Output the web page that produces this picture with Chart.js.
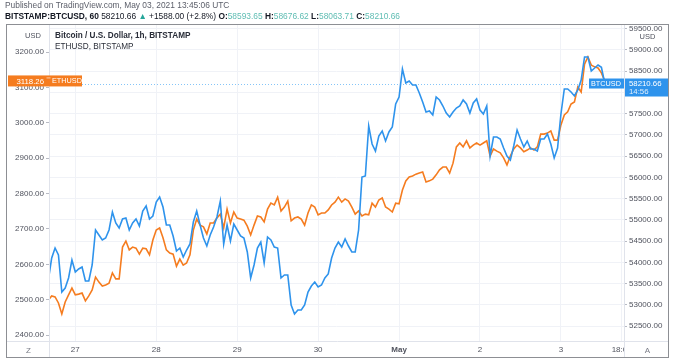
<!DOCTYPE html>
<html><head><meta charset="utf-8">
<style>html,body{margin:0;padding:0;background:#fff;}#wrap{width:681px;height:363px;}</style>
<script src="https://cdn.jsdelivr.net/npm/chart.js@4.4.0/dist/chart.umd.min.js"></script>
</head><body><div id="wrap"><canvas id="c" width="681" height="363"></canvas></div>
<script>
// Hourly bars, first bar = Apr 26 16:00 UTC (hour -8 relative to Apr 27 00:00)
const START_HOUR = -8;
const ethValues = [
2499,2511,2508,2491,2460,2494,2514,2533,
2514,2516,2519,2497,2511,2528,2564,2550,2539,2542,2547,2576,2559,2559,2649,2666,2641,2649,2646,2629,2646,2644,2627,2669,
2697,2703,2675,2641,2632,2629,2595,2615,2598,2604,2627,2697,2728,2711,2706,2686,2717,2717,2731,2742,2703,2756,2717,2748,
2731,2728,2725,2708,2683,2711,2737,2734,2720,2756,2773,2768,2790,2751,2762,2779,2723,2731,2734,2728,2711,2745,2768,2762,
2740,2745,2745,2754,2768,2776,2790,2776,2785,2779,2762,2742,2751,2737,2742,2740,2773,2762,2782,2788,2762,2756,2748,2773,
2771,2810,2836,2847,2850,2855,2858,2861,2833,2836,2841,2853,2867,2875,2875,2858,2886,2932,2943,2932,2949,2929,2937,2943,
2937,2943,2949,2906,2926,2920,2915,2901,2881,2906,2926,2937,2929,2918,2923,2929,2923,2932,2968,2968,2971,2977,2951,2951,
2994,3022,3031,3053,3059,3101,3087,3166,3186,3163,3158,3155,3141,3118.26
];
const btcValues = [
53583,54102,54337,54172,53301,53395,53631,54054,
53772,53843,53890,53560,53560,53937,54761,54643,54525,54573,54761,55185,54926,54808,55020,55044,54761,54926,55020,54855,55208,55326,55020,55091,
55420,55538,55303,54879,54879,54620,54266,54337,54125,54290,54431,54949,55208,54879,54573,54384,54643,54832,55067,55444,54431,54879,54502,54902,
54761,54620,54573,54243,53631,53937,54337,54478,53984,54596,54525,54361,54337,53631,53701,53701,52995,52783,52877,52877,52995,53301,53442,53536,
53419,53466,53631,53725,54102,54337,54478,54361,54549,54384,54243,54243,54761,56009,56033,57210,56786,56621,56975,57092,56857,57069,57187,57728,
57893,58553,58223,58270,58176,58176,57987,57775,57540,57563,57469,57893,57822,57681,57516,57422,57540,57634,57681,57822,57728,57516,57752,57846,
57587,57493,57681,56504,56951,56951,56904,56692,56504,56409,56739,57116,56904,56716,56857,56669,56669,56621,56904,56904,57022,56786,56457,56692,
57493,58082,58082,58011,57917,58058,58293,58835,58835,58505,58576,58647,58593,58210.66
];
const dayTicks = [0, 24, 48, 72, 96, 120, 144, 162];
const dayLabels = ['27', '28', '29', '30', 'May', '2', '3', '18:00'];
const ethTicks = [2400, 2500, 2600, 2700, 2800, 2900, 3000, 3100, 3200];
const btcTicks = [52500, 53000, 53500, 54000, 54500, 55000, 55500, 56000, 56500, 57000, 57500, 58000, 58500, 59000, 59500];
const ethRange = [2383.6, 3279.1];
const btcRange = [52147, 59612];
const hourRange = [-7.8, 162.7];
const btcCountdown = '14:56';

const BTC_COLOR = '#2e93ec';
const ETH_COLOR = '#f57c1f';
const FONT = "'Liberation Sans', Arial, sans-serif";

const ethPoints = ethValues.map((v, i) => ({x: START_HOUR + i, y: v}));
const btcPoints = btcValues.map((v, i) => ({x: START_HOUR + i, y: v}));
const ethLast = ethValues[ethValues.length - 1];
const btcLast = btcValues[btcValues.length - 1];

const FR = {left: 6, top: 24, right: 669, bottom: 358};

function txt(c, s, x, y, font, color, align) {
  c.font = font; c.fillStyle = color; c.textAlign = align || 'left'; c.textBaseline = 'middle';
  c.fillText(s, x, y);
  return c.measureText(s).width;
}

const overlay = {
  id: 'overlay',
  beforeDraw(chart) {
    const c = chart.ctx;
    c.save(); c.fillStyle = '#fff'; c.fillRect(0, 0, chart.width, chart.height); c.restore();
  },
  beforeDatasetsDraw(chart) {
    const c = chart.ctx, a = chart.chartArea;
    const yb = Math.round(chart.scales.yBtc.getPixelForValue(btcLast)) + 0.5;
    c.save();
    c.strokeStyle = 'rgba(33,150,243,0.55)'; c.lineWidth = 1; c.setLineDash([1, 2]);
    c.beginPath(); c.moveTo(a.left, yb); c.lineTo(a.right - 35, yb); c.stroke();
    c.restore();
  },
  afterDraw(chart) {
    const c = chart.ctx, a = chart.chartArea;
    c.save();
    // clear above frame (clips the top right-axis label)
    c.fillStyle = '#fff';
    c.fillRect(a.right + 1, FR.top - 6, FR.right - a.right + 4, 6);
    // bottom-right corner
    c.fillRect(a.right + 1, a.bottom + 1, FR.right - a.right - 1, FR.bottom - a.bottom - 1);
    // separators
    c.strokeStyle = '#e0e3eb'; c.lineWidth = 1;
    c.beginPath();
    c.moveTo(Math.round(a.left) + 0.5, FR.top); c.lineTo(Math.round(a.left) + 0.5, FR.bottom);
    c.moveTo(Math.round(a.right) + 0.5, FR.top); c.lineTo(Math.round(a.right) + 0.5, FR.bottom);
    c.moveTo(FR.left, Math.round(a.bottom) + 0.5); c.lineTo(FR.right, Math.round(a.bottom) + 0.5);
    c.stroke();
    // frame
    c.strokeStyle = '#8d8f94';
    c.strokeRect(FR.left + 0.5, FR.top + 0.5, FR.right - FR.left - 1, FR.bottom - FR.top - 1);
    const ty = (a.bottom + FR.bottom) / 2 + 1;
    txt(c, 'Z', (FR.left + a.left) / 2 + 1, ty, `8px ${FONT}`, '#787b86', 'center');
    txt(c, 'A', (a.right + FR.right) / 2 + 1, ty, `8px ${FONT}`, '#787b86', 'center');
    // USD units
    txt(c, 'USD', 33, 35.5, `7.5px ${FONT}`, '#50535e', 'center');
    c.fillStyle = '#fff'; c.fillRect(a.right + 2, 32, FR.right - a.right - 3, 10);
    txt(c, 'USD', (a.right + FR.right) / 2 + 1, 37, `7.5px ${FONT}`, '#50535e', 'center');
    // legend in pane
    txt(c, 'Bitcoin / U.S. Dollar, 1h, BITSTAMP', 55, 35.5, `bold 8.2px ${FONT}`, '#2a2e39');
    txt(c, 'ETHUSD, BITSTAMP', 55, 47, `8.2px ${FONT}`, '#2a2e39');
    // ETH price label
    const ye = chart.scales.yEth.getPixelForValue(ethLast);
    c.fillStyle = ETH_COLOR;
    c.fillRect(FR.left + 2, ye - 5.5, a.left + 33 - FR.left - 2, 11);
    c.strokeStyle = 'rgba(255,255,255,0.6)';
    c.beginPath(); c.moveTo(a.left - 2.5, ye - 3); c.lineTo(a.left + 1.5, ye - 3); c.stroke();
    txt(c, ethLast.toFixed(2), a.left - 5, ye + 0.5, `7.8px ${FONT}`, '#fff', 'right');
    txt(c, 'ETHUSD', a.left + 3, ye + 0.5, `7.3px ${FONT}`, '#fff');
    // BTC price label
    const yb = chart.scales.yBtc.getPixelForValue(btcLast);
    c.fillStyle = BTC_COLOR;
    c.fillRect(a.right - 35, yb - 5, 35, 10);
    c.fillRect(a.right + 1, yb - 5, FR.right - a.right - 2, 18);
    txt(c, 'BTCUSD', a.right - 33, yb + 0.3, `7.3px ${FONT}`, '#fff');
    txt(c, btcLast.toFixed(2), a.right + 5, yb, `7.8px ${FONT}`, '#fff');
    txt(c, btcCountdown, a.right + 5, yb + 8.5, `7.8px ${FONT}`, 'rgba(255,255,255,0.85)');
    // header
    txt(c, 'Published on TradingView.com, May 03, 2021 13:45:06 UTC', 5, 6, `8.4px ${FONT}`, '#5d606b');
    const segs = [
      ['BITSTAMP:BTCUSD, 60 ', 'bold', '#131722'],
      ['58210.66 ', '', '#131722'],
      ['\u25B2 ', '', '#26a69a'],
      ['+1588.00 (+2.8%) ', '', '#131722'],
      ['O:', 'bold', '#131722'], ['58593.65 ', '', '#5fbdb3'],
      ['H:', 'bold', '#131722'], ['58676.62 ', '', '#5fbdb3'],
      ['L:', 'bold', '#131722'], ['58063.71 ', '', '#5fbdb3'],
      ['C:', 'bold', '#131722'], ['58210.66', '', '#5fbdb3']
    ];
    let x = 5;
    for (const [s, w, col] of segs) {
      x += txt(c, s, x, 16.5, `${w} 8.4px ${FONT}`.trim(), col);
    }
    c.restore();
  }
};

new Chart(document.getElementById('c'), {
  type: 'line',
  data: {
    datasets: [
      {label: 'BTCUSD', data: btcPoints, yAxisID: 'yBtc', borderColor: BTC_COLOR, borderWidth: 1.6,
       pointRadius: 0, tension: 0, order: 0},
      {label: 'ETHUSD', data: ethPoints, yAxisID: 'yEth', borderColor: ETH_COLOR, borderWidth: 1.6,
       pointRadius: 0, tension: 0, order: 1}
    ]
  },
  options: {
    responsive: false, animation: false, devicePixelRatio: 1,
    layout: {padding: {left: 6, right: 12, top: 24, bottom: 5}},
    plugins: {legend: {display: false}, tooltip: {enabled: false}},
    scales: {
      x: {
        type: 'linear', min: hourRange[0], max: hourRange[1],
        afterBuildTicks: s => { s.ticks = dayTicks.map(v => ({value: v})); },
        afterFit: s => { s.height = 17; },
        border: {display: false},
        grid: {color: '#f0f2f7', drawTicks: false},
        ticks: {
          autoSkip: false, maxRotation: 0, padding: 4, color: '#50535e',
          font: ctx => ({family: FONT, size: 8, weight: (ctx.tick && ctx.tick.value === 96) ? 'bold' : 'normal'}),
          callback: v => dayLabels[dayTicks.indexOf(v)]
        }
      },
      yEth: {
        type: 'linear', position: 'left', min: ethRange[0], max: ethRange[1],
        afterBuildTicks: s => { s.ticks = ethTicks.map(v => ({value: v})); },
        afterFit: s => { s.width = 43; },
        border: {display: false},
        grid: {drawOnChartArea: false, tickLength: 3, color: '#b8bbc4'},
        ticks: {autoSkip: false, padding: 2, color: '#50535e',
                font: {family: FONT, size: 8}, callback: v => v.toFixed(2)}
      },
      yBtc: {
        type: 'linear', position: 'right', min: btcRange[0], max: btcRange[1],
        afterBuildTicks: s => { s.ticks = btcTicks.map(v => ({value: v})); },
        afterFit: s => { s.width = 45; },
        border: {display: false},
        grid: {color: '#f0f2f7', tickColor: '#b8bbc4', tickLength: 3},
        ticks: {autoSkip: false, padding: 2, color: '#50535e',
                font: {family: FONT, size: 8}, callback: v => v.toFixed(2)}
      }
    }
  },
  plugins: [overlay]
});
</script></body></html>
